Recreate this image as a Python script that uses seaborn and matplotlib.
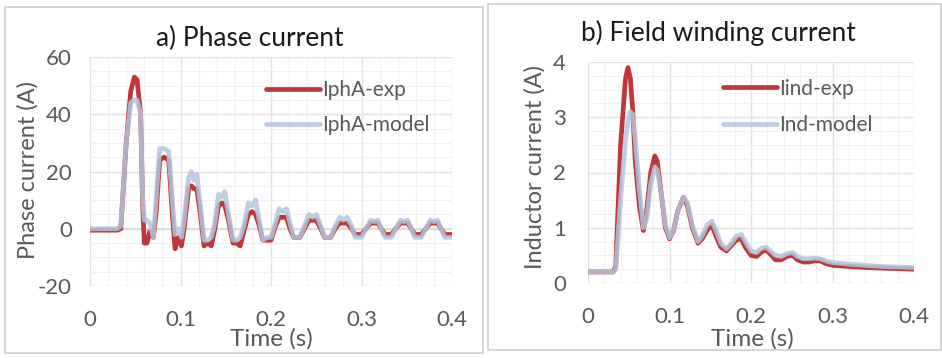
import numpy as np
import pandas as pd
import matplotlib
matplotlib.use("Agg")
import matplotlib.pyplot as plt
from matplotlib.patches import Rectangle
from matplotlib.ticker import MultipleLocator, FuncFormatter
import seaborn as sns

# ---- a) phase current ----
t_phase = [0.000, 0.030, 0.034, 0.040, 0.045, 0.049, 0.052, 0.056, 0.058, 0.060,
           0.063, 0.066, 0.070, 0.073, 0.077, 0.082, 0.087, 0.091, 0.094, 0.098,
           0.101, 0.104, 0.109, 0.112, 0.115, 0.118, 0.122, 0.126, 0.130, 0.134,
           0.138, 0.142, 0.146, 0.149, 0.153, 0.158, 0.162, 0.166, 0.170, 0.175,
           0.179, 0.183, 0.187, 0.191, 0.196, 0.200, 0.204, 0.209, 0.213, 0.217,
           0.221, 0.225, 0.232, 0.237, 0.242, 0.246, 0.250, 0.255, 0.259, 0.266,
           0.271, 0.276, 0.280, 0.284, 0.289, 0.293, 0.300, 0.305, 0.310, 0.314,
           0.318, 0.322, 0.326, 0.333, 0.338, 0.343, 0.347, 0.351, 0.355, 0.359,
           0.366, 0.371, 0.376, 0.380, 0.384, 0.388, 0.392, 0.400]
ipha_exp = [-0.5, -0.5, 0, 30, 48, 53, 52, 40, 10, -5,
            -5, -1, -3, 5, 24, 25, 24, 5, -7, -3,
            -6, 0, 14, 15, 14, 14, 5, -6, -5, -6,
            0, 8, 9, 8, 3, -5, -5, -6, -1, 5,
            6, 5, 1, -4, -4, -4, 0, 4, 4, 4,
            0, -3, -3, 0, 3, 3, 3, 0, -3, -3,
            0, 2, 2, 2, 0, -2, -2, 0, 2, 2,
            2, 0, -2, -2, 0, 2, 2, 2, 0, -2,
            -2, 0, 2, 2, 2, 0, -2, -2]
ipha_model = [0, 0, 1, 30, 44, 45, 45, 40, 12, 3,
              3, 2, -3, 10, 28, 28, 27, 10, -2, 0,
              -3, 3, 18, 20, 17, 19, 8, -4, -4, -3,
              2, 12, 11, 13, 5, -4, -4, -3, 1, 9,
              8, 10, 3, -4, -3, -3, 1, 7, 6, 7,
              2, -3, -3, 1, 5, 4, 5, 1, -3, -3,
              1, 4, 3, 4, 1, -3, -3, 0, 3, 2.5,
              3, 0, -3, -3, 0, 3, 2.5, 3, 0, -3,
              -3, 0, 3, 2.5, 3, 0, -3, -3]

# ---- b) field winding current ----
t_field = [0.000, 0.031, 0.034, 0.040, 0.046, 0.049, 0.052, 0.055, 0.058, 0.063,
           0.068, 0.072, 0.077, 0.082, 0.085, 0.090, 0.095, 0.100, 0.105, 0.110,
           0.117, 0.122, 0.128, 0.135, 0.140, 0.146, 0.152, 0.157, 0.163, 0.170,
           0.176, 0.182, 0.188, 0.193, 0.200, 0.207, 0.212, 0.218, 0.224, 0.230,
           0.237, 0.244, 0.251, 0.257, 0.264, 0.271, 0.278, 0.285, 0.292, 0.300,
           0.320, 0.340, 0.360, 0.380, 0.400]
iind_exp = [0.2, 0.2, 0.3, 2.5, 3.7, 3.9, 3.7, 3.1, 2.2, 1.4,
            0.95, 1.3, 2.0, 2.3, 2.2, 1.6, 1.0, 0.8, 0.95, 1.3,
            1.55, 1.4, 1.0, 0.72, 0.8, 0.95, 1.05, 0.85, 0.65, 0.58,
            0.68, 0.78, 0.8, 0.65, 0.5, 0.48, 0.55, 0.6, 0.52, 0.42,
            0.42, 0.48, 0.5, 0.42, 0.38, 0.38, 0.4, 0.4, 0.35, 0.32,
            0.3, 0.28, 0.27, 0.26, 0.25]
ind_model = [0.2, 0.2, 0.25, 1.5, 2.6, 2.9, 3.1, 3.05, 2.6, 1.7,
             1.0, 1.15, 1.8, 2.1, 2.05, 1.6, 1.05, 0.82, 0.95, 1.3,
             1.55, 1.45, 1.05, 0.75, 0.85, 1.05, 1.12, 0.95, 0.72, 0.62,
             0.72, 0.85, 0.88, 0.75, 0.58, 0.55, 0.62, 0.65, 0.58, 0.5,
             0.48, 0.53, 0.55, 0.48, 0.44, 0.44, 0.45, 0.44, 0.4, 0.37,
             0.34, 0.32, 0.3, 0.29, 0.28]

phase_df = pd.DataFrame({"t": t_phase, "IphA-exp": ipha_exp, "IphA-model": ipha_model})
field_df = pd.DataFrame({"t": t_field, "Iind-exp": iind_exp, "Ind-model": ind_model})

sns.set_theme(style="white")
plt.rcParams["font.family"] = ["Lato", "DejaVu Sans"]

RED = "#c0373a"
BLUE = "#b3c5df"
TICK = "#595959"
GRID = "#e3e3e3"
MINOR = "#f1f1f1"

fig = plt.figure(figsize=(9.42, 3.58), dpi=100)
W, H = 942, 358

# panel frames
for (x0, y0, x1, y1) in [(5, 7, 483, 353), (488, 4, 941, 350)]:
    fig.patches.append(Rectangle((x0 / W, 1 - y1 / H), (x1 - x0) / W, (y1 - y0) / H,
                                 transform=fig.transFigure, fill=False,
                                 edgecolor="#d0d0d0", linewidth=1.2))


def fmt(v, _):
    if abs(v) < 1e-9:
        return "0"
    return f"{v:g}"


def style_axes(ax, ymin, ymax, ymaj, ymin_step, ypad):
    ax.set_xlim(0, 0.4)
    ax.set_ylim(ymin, ymax)
    ax.xaxis.set_major_locator(MultipleLocator(0.1))
    ax.xaxis.set_minor_locator(MultipleLocator(0.02))
    ax.yaxis.set_major_locator(MultipleLocator(ymaj))
    ax.yaxis.set_minor_locator(MultipleLocator(ymin_step))
    ax.xaxis.set_major_formatter(FuncFormatter(fmt))
    ax.yaxis.set_major_formatter(FuncFormatter(fmt))
    ax.grid(which="minor", color=MINOR, linewidth=0.8)
    ax.grid(which="major", color=GRID, linewidth=1.0)
    ax.set_axisbelow(True)
    for s in ax.spines.values():
        s.set_visible(False)
    ax.tick_params(which="both", length=0, labelsize=16, colors=TICK)
    ax.tick_params(axis="x", pad=17)
    ax.tick_params(axis="y", pad=ypad)


def add_legend(ax, anchor, spacing):
    leg = ax.legend(loc="upper left", bbox_to_anchor=anchor, frameon=False,
                    fontsize=15, handlelength=2.6, handletextpad=0.1,
                    labelspacing=spacing, borderaxespad=0, borderpad=0)
    for txt in leg.get_texts():
        txt.set_color(TICK)
    return leg


# ---- left axes ----
ax1 = fig.add_axes([90 / W, 1 - 286 / H, 362 / W, 229 / H])
style_axes(ax1, -20, 60, 20, 5, ypad=13)
ax1.axhline(0, color="#d9d9d9", linewidth=1.2, zorder=1)
sns.lineplot(data=phase_df, x="t", y="IphA-exp", ax=ax1, color=RED, linewidth=3.4,
             label="IphA-exp", zorder=3)
sns.lineplot(data=phase_df, x="t", y="IphA-model", ax=ax1, color=BLUE, linewidth=3.4,
             alpha=0.85, label="IphA-model", zorder=4)
ax1.set_xlabel("Time (s)", fontsize=17.5, color=TICK)
ax1.set_ylabel("Phase current (A)", fontsize=17, color=TICK)
ax1.xaxis.set_label_coords(0.5, -0.183)
ax1.xaxis.label.set_va("top")
ax1.yaxis.set_label_coords(-0.171, 0.507)
ax1.yaxis.label.set_va("center")
fig.text(250 / W, 1 - 38 / H, "a) Phase current", ha="center", va="center",
         fontsize=19, color="#1a1a1a")
add_legend(ax1, (0.485, 0.90), 0.72)

# ---- right axes ----
ax2 = fig.add_axes([588 / W, 1 - 283 / H, 326 / W, 221 / H])
style_axes(ax2, 0, 4, 1, 0.25, ypad=16)
sns.lineplot(data=field_df, x="t", y="Iind-exp", ax=ax2, color=RED, linewidth=3.4,
             label="Iind-exp", zorder=3)
sns.lineplot(data=field_df, x="t", y="Ind-model", ax=ax2, color=BLUE, linewidth=3.4,
             alpha=0.85, label="Ind-model", zorder=4)
ax2.set_xlabel("Time (s)", fontsize=17.5, color=TICK)
ax2.set_ylabel("Inductor current (A)", fontsize=17, color=TICK)
ax2.xaxis.set_label_coords(0.503, -0.204)
ax2.xaxis.label.set_va("top")
ax2.yaxis.set_label_coords(-0.163, 0.525)
ax2.yaxis.label.set_va("center")
fig.text(718 / W, 1 - 33 / H, "b) Field winding current", ha="center", va="center",
         fontsize=19, color="#1a1a1a")
add_legend(ax2, (0.415, 0.925), 0.78)

fig.savefig("out.png", dpi=100)
